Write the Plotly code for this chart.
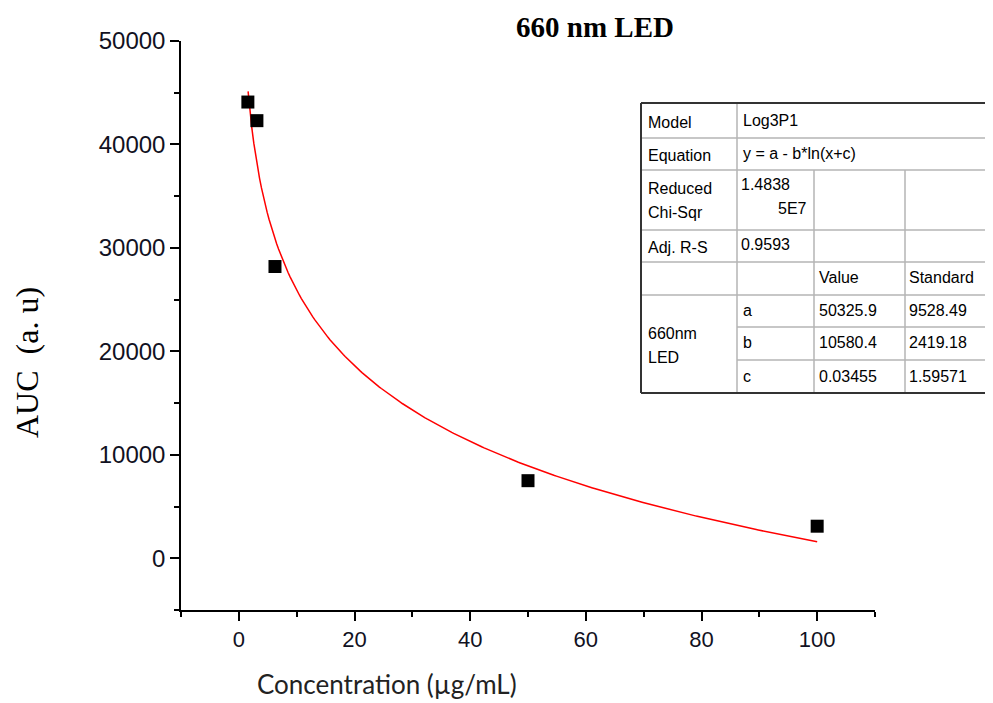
import numpy as np
import plotly.graph_objects as go

# ---- data ----
conc = [1.5625, 3.125, 6.25, 50, 100]
auc = [44100, 42300, 28200, 7500, 3100]

fit_a = 50325.9
fit_b = 10580.4
fit_c = 0.03455
fit_x_start = 1.6
fit_x_end = 100

x_ticks = [0, 20, 40, 60, 80, 100]
x_ticktext = ["0", "20", "40", "60", "80", "100"]
y_ticks = [0, 10000, 20000, 30000, 40000, 50000]
y_ticktext = ["0", "10000", "20000", "30000", "40000", "50000"]

table_rows = [
    ("Model", "Log3P1"),
    ("Equation", "y = a - b*ln(x+c)"),
]
params = ["a", "b", "c"]
param_values = ["50325.9", "10580.4", "0.03455"]
param_errors = ["9528.49", "2419.18", "1.59571"]

# fit curve from the model parameters shown in the table
fx = np.linspace(fit_x_start, fit_x_end, 300)
fy = fit_a - fit_b * np.log(fx + fit_c)

fig = go.Figure()
fig.add_trace(go.Scatter(x=fx, y=fy, mode="lines",
                         line=dict(color="#ff0000", width=1.5),
                         showlegend=False, hoverinfo="skip"))
fig.add_trace(go.Scatter(x=conc, y=auc, mode="markers",
                         marker=dict(symbol="square", size=13, color="black"),
                         showlegend=False))

# page offset (body margin) compensation
OFF = 8
W, H = 993, 703
# plot area in reference pixels
L, R, T, B = 181, 875, 41, 610


def px(x):
    return (x - L) / (R - L)


def py(y):
    return (B - y) / (B - T)


shapes = []
annots = []

# table background
shapes.append(dict(type="rect", xref="paper", yref="paper",
                   x0=px(641), x1=px(1010), y0=py(103), y1=py(393),
                   fillcolor="white", line=dict(width=0), layer="above"))

inner = dict(color="#b4b4b4", width=1.5)
outer = dict(color="#333333", width=2)


def hline(y, x0, x1, ln):
    shapes.append(dict(type="line", xref="paper", yref="paper",
                       x0=px(x0), x1=px(x1), y0=py(y), y1=py(y), line=ln, layer="above"))


def vline(x, y0, y1, ln):
    shapes.append(dict(type="line", xref="paper", yref="paper",
                       x0=px(x), x1=px(x), y0=py(y0), y1=py(y1), line=ln, layer="above"))


for y in [138, 170, 230, 262, 295]:
    hline(y, 641, 1010, inner)
for y in [327, 360]:
    hline(y, 737, 1010, inner)
vline(737, 103, 393, inner)
vline(814, 170, 393, inner)
vline(905, 170, 393, inner)
hline(103, 641, 1010, outer)
hline(393, 641, 1010, outer)
vline(641, 103, 393, outer)

tfont = dict(family="Liberation Sans, Arial", size=16, color="black")


def txt(x, y, s, anchor="left"):
    annots.append(dict(xref="paper", yref="paper", x=px(x), y=py(y), text=s,
                       showarrow=False, xanchor=anchor, yanchor="middle", font=tfont))


txt(646, 123, table_rows[0][0])
txt(741, 121, table_rows[0][1])
txt(646, 155, table_rows[1][0])
txt(741, 153, table_rows[1][1])
txt(646, 188, "Reduced")
txt(646, 212, "Chi-Sqr")
txt(739, 185, "1.4838")
txt(809, 208, "5E7", anchor="right")
txt(646, 247, "Adj. R-S")
txt(739, 245, "0.9593")
txt(817, 277, "Value")
txt(907, 277, "Standard")
txt(646, 334, "660nm")
txt(646, 357, "LED")
for i, (p, v, e) in enumerate(zip(params, param_values, param_errors)):
    yc = [310, 343, 376][i]
    txt(741, yc, p)
    txt(817, yc, v)
    txt(907, yc, e)

# titles
annots.append(dict(xref="paper", yref="paper", x=px(595), y=py(OFF + 1), text="<b>660 nm LED</b>",
                   showarrow=False, xanchor="center", yanchor="top",
                   font=dict(family="Liberation Serif, Times New Roman", size=29, color="black")))
annots.append(dict(xref="paper", yref="paper", x=px(27), y=py(363), text="AUC  (a. u)",
                   showarrow=False, xanchor="center", yanchor="middle", textangle=-90,
                   font=dict(family="Liberation Serif, Times New Roman", size=32, color="black")))
annots.append(dict(xref="paper", yref="paper", x=px(387), y=py(702), text="Concentration (µg/mL)",
                   showarrow=False, xanchor="center", yanchor="bottom",
                   font=dict(family="Lato", size=26, color="#222222")))

fig.update_layout(
    width=W, height=H,
    margin=dict(l=L - OFF, r=W - R + OFF, t=T - OFF, b=H - B + OFF, pad=0),
    paper_bgcolor="white", plot_bgcolor="white",
    shapes=shapes, annotations=annots,
    xaxis=dict(range=[-10, 110], tickvals=x_ticks, ticktext=x_ticktext, ticks="outside",
               ticklen=9, tickwidth=1.5,
               showline=True, linecolor="black", linewidth=1.5, showgrid=False, zeroline=False,
               tickfont=dict(family="Liberation Sans, Arial", size=22, color="#111122"),
               minor=dict(dtick=10, tick0=0, ticks="outside", ticklen=5, tickwidth=1.5, tickcolor="black"),
               tickcolor="black"),
    yaxis=dict(range=[-5000, 50000], tickvals=y_ticks, ticktext=y_ticktext, ticks="outside",
               ticklen=9, tickwidth=1.5,
               showline=True, linecolor="black", linewidth=1.5, showgrid=False, zeroline=False,
               tickfont=dict(family="Liberation Sans, Arial", size=24, color="#111122"),
               minor=dict(dtick=5000, tick0=0, ticks="outside", ticklen=5, tickwidth=1.5, tickcolor="black"),
               tickcolor="black"),
)

fig.write_html("out.html")
